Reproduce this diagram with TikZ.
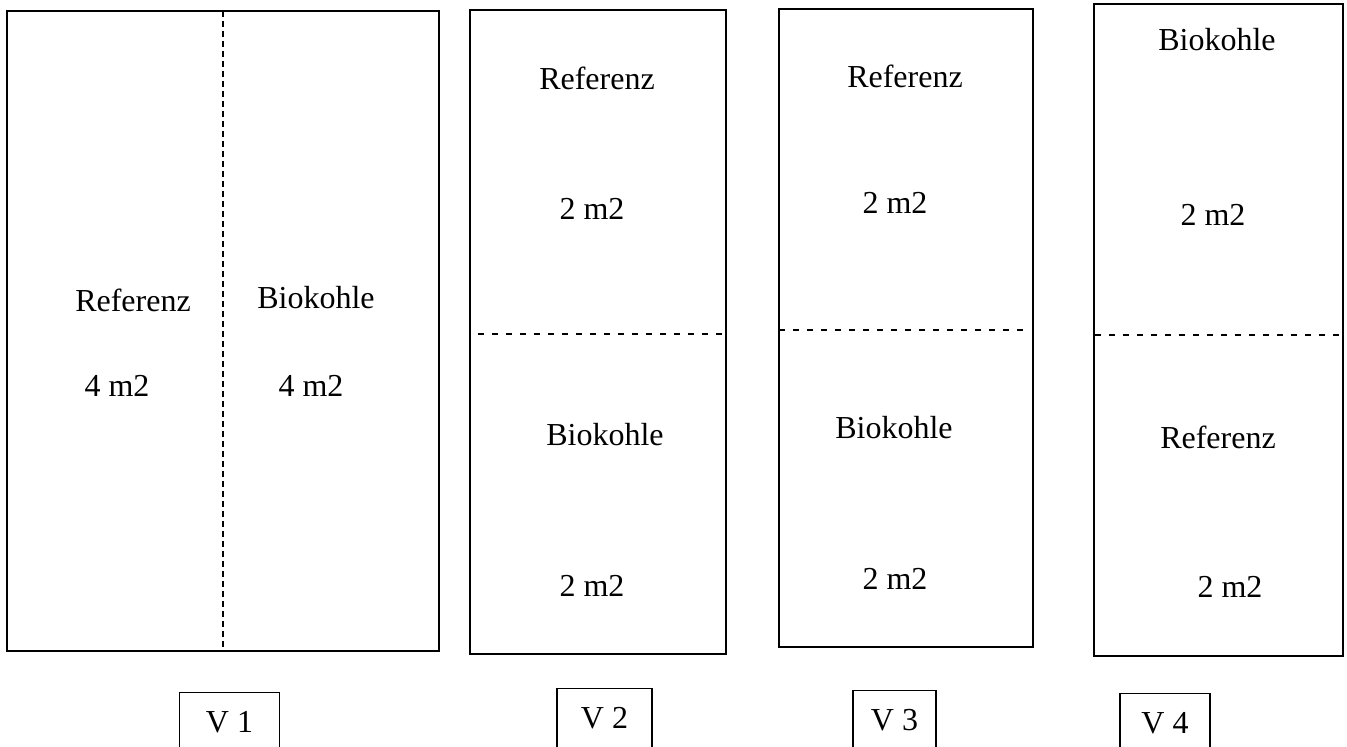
\documentclass[tikz,border=0pt]{standalone}
\usepackage{fontspec}
\setmainfont{Liberation Serif}

\tikzset{
  plot/.style={draw=black, line width=1pt},
  split/.style={line width=1pt, dash pattern=on 3pt off 4pt},
  splitv/.style={line width=1pt, dash pattern=on 3pt off 2pt},
  field/.style={font=\fontsize{16}{19}\selectfont, inner sep=0pt},
  tag/.style={draw=black, line width=0.9pt, font=\fontsize{16}{19}\selectfont, inner sep=0pt,
    minimum width=#1, text height=19.75pt, text depth=20pt, anchor=base},
  tag/.default=50pt
}

\begin{document}
\begin{tikzpicture}[x=0.5pt,y=-0.5pt]

\clip (0,0) rectangle (1347,747);

\draw[plot] (7,11) rectangle (439,651);
\draw[splitv] (223,11) -- (223,651);
\node[field] (V1_ref) at (133,300) {Referenz};
\node[field] (V1_refa) at (117,386) {4 m2};
\node[field] (V1_bio) at (316,298) {Biokohle};
\node[field] (V1_bioa) at (311,386) {4 m2};
\node[tag=50pt] (V1) at (229.5,732) {V 1};

\draw[plot] (470,10) rectangle (726,654);
\draw[split] (478,334) -- (726,334);
\node[field] (V2_ref) at (597,78) {Referenz};
\node[field] (V2_refa) at (592,209) {2 m2};
\node[field] (V2_bio) at (605,435) {Biokohle};
\node[field] (V2_bioa) at (592,586) {2 m2};
\node[tag=47.5pt] (V2) at (604.5,728) {V 2};

\draw[plot] (779,9) rectangle (1033,647);
\draw[split] (779,330) -- (1026,330);
\node[field] (V3_ref) at (905,76) {Referenz};
\node[field] (V3_refa) at (895,203) {2 m2};
\node[field] (V3_bio) at (894,428) {Biokohle};
\node[field] (V3_bioa) at (895,579) {2 m2};
\node[tag=41.5pt] (V3) at (894.5,730) {V 3};

\draw[plot] (1094,4) rectangle (1343,656);
\draw[split] (1095,335) -- (1342,335);
\node[field] (V4_bio) at (1217,40) {Biokohle};
\node[field] (V4_bioa) at (1213,215) {2 m2};
\node[field] (V4_ref) at (1218,437) {Referenz};
\node[field] (V4_refa) at (1230,587) {2 m2};
\node[tag=45pt] (V4) at (1165,733) {V 4};

\end{tikzpicture}
\end{document}
